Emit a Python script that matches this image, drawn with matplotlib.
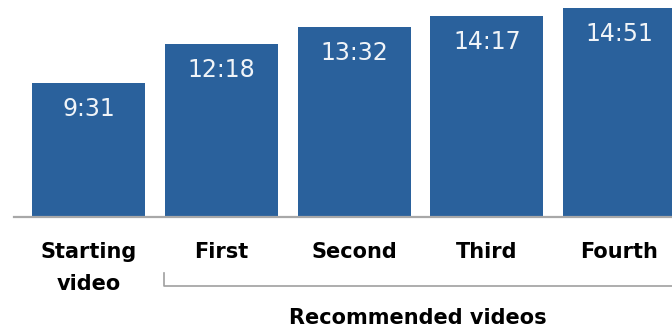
import matplotlib.pyplot as plt

categories = ['Starting\nvideo', 'First', 'Second', 'Third', 'Fourth']
labels = ['9:31', '12:18', '13:32', '14:17', '14:51']
seconds = [571, 738, 812, 857, 891]

fig = plt.figure(figsize=(6.72, 3.29), dpi=100)
# axes: baseline at y=217px, left edge x=14px
ax = fig.add_axes([14 / 672, (329 - 217) / 329, 658 / 672, 217 / 329])
x = list(range(len(seconds)))
ax.bar(x, seconds, width=0.851, color='#2a619c')
ax.set_xlim(-0.561, 4.395)
ax.set_ylim(0, 927)
for s in ['top', 'right', 'left']:
    ax.spines[s].set_visible(False)
ax.spines['bottom'].set_color('#a8a8a8')
ax.spines['bottom'].set_linewidth(1.6)
ax.set_yticks([])
ax.set_xticks(x)
ax.set_xticklabels(categories, fontsize=15, fontweight='bold', family='DejaVu Sans',
                   linespacing=1.72, va='top')
ax.tick_params(axis='x', length=0, pad=18)

for i, (v, lab) in enumerate(zip(seconds, labels)):
    ax.annotate(lab, (i, v), xytext=(0, -26), textcoords='offset pixels',
                ha='center', va='center', color='#f0f4f8', fontsize=17,
                family='DejaVu Sans')

# bracket under recommended videos
fig.add_artist(plt.Line2D([164 / 672, 164 / 672, 1.0],
                          [(329 - 273) / 329, (329 - 286) / 329, (329 - 286) / 329],
                          color='#a0a0a0', lw=1.2))
fig.text(418 / 672, (329 - 318) / 329, 'Recommended videos', ha='center', va='center',
         fontsize=15, fontweight='bold', family='DejaVu Sans')

fig.savefig('out.png', dpi=100)
